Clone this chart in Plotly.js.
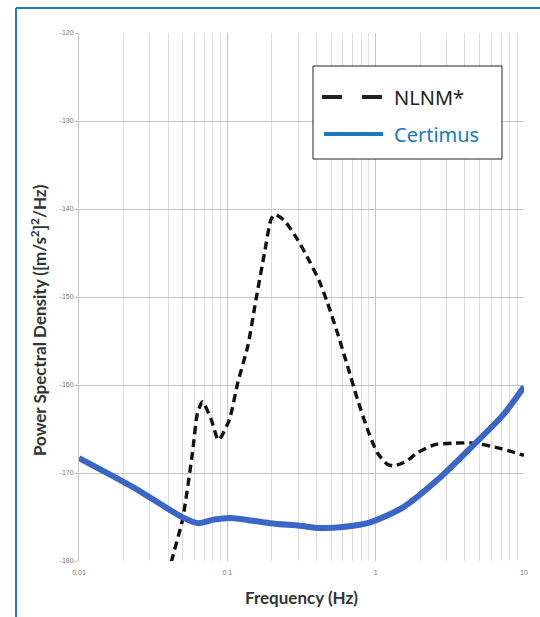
<!DOCTYPE html>
<html>
<head>
<meta charset="utf-8">
<script src="https://cdn.plot.ly/plotly-3.0.1.min.js"></script>
<style>html,body{margin:0;padding:0;background:#fff;}#chart{width:540px;height:617px;}</style>
</head>
<body>
<div id="chart"></div>
<script>
// NLNM* (dashed) — frequency (Hz) and PSD (dB)
const nlnmFreq = [0.039, 0.0421, 0.0499, 0.0582, 0.0629, 0.068, 0.0781, 0.0871, 0.103, 0.1177, 0.1373, 0.156, 0.178, 0.197, 0.2096, 0.242, 0.298, 0.357, 0.417, 0.474, 0.553, 0.645, 0.753, 0.879, 1.026, 1.197, 1.33, 1.633, 1.906, 2.48, 3.38, 4.6, 6.89, 10];
const nlnmPsd  = [-183, -180, -175.3, -167.7, -163.2, -161.9, -164.0, -166.25, -164.0, -159.7, -155.6, -150.3, -145.0, -141.2, -140.6, -141.3, -143.5, -145.9, -148.2, -150.7, -154.1, -157.8, -161.6, -165.0, -167.7, -169.0, -169.2, -168.6, -167.7, -166.8, -166.6, -166.6, -167.2, -168.0];
// Certimus (solid blue)
const certFreq = [0.01, 0.0231, 0.0495, 0.0634, 0.081, 0.104, 0.194, 0.309, 0.422, 0.622, 0.917, 1.53, 2.6, 4.33, 7.23, 10];
const certPsd  = [-168.3, -171.6, -175.0, -175.7, -175.3, -175.1, -175.7, -176.0, -176.25, -176.1, -175.6, -173.9, -170.8, -167.2, -163.4, -160.2];
// Tick labels
const xTickVals = [0.01, 0.1, 1, 10];
const xTickText = ['0.01', '0.1', '1', '10'];
const yTickVals = [-180, -170, -160, -150, -140, -130, -120];
const yTickText = ['-180', '-170', '-160', '-150', '-140', '-130', '-120'];
const seriesNames = ['NLNM*', 'Certimus'];
const xTitle = 'Frequency (Hz)';
const yTitle = 'Power Spectral Density ([m/s<sup>2</sup>]<sup>2</sup>/Hz)';

const W = 540, H = 617;
const M = {l: 79, r: 16, t: 33, b: 56};
const pw = W - M.l - M.r, ph = H - M.t - M.b;
const px = x => (x - M.l) / pw;
const py = y => (H - M.b - y) / ph;

const blueFrame = '#1f7bc6';
const certColor = '#3a66c8';
const legendBlue = '#1a78c2';
const titleFont = {family: 'Lato, sans-serif', size: 17, color: '#333', weight: 'bold'};

const traces = [
  {x: nlnmFreq, y: nlnmPsd, type: 'scatter', mode: 'lines', name: seriesNames[0],
   line: {color: '#111', width: 3.4, dash: '8px,5px', shape: 'spline', smoothing: 0.6}, showlegend: false},
  {x: certFreq, y: certPsd, type: 'scatter', mode: 'lines', name: seriesNames[1],
   line: {color: certColor, width: 6, shape: 'spline', smoothing: 0.8}, showlegend: false}
];

const layout = {
  width: W, height: H,
  margin: M,
  paper_bgcolor: '#fff', plot_bgcolor: '#fff',
  font: {family: 'Liberation Sans, Arial, sans-serif', color: '#333'},
  xaxis: {
    type: 'log', range: [-2, 1], tickvals: xTickVals, ticktext: xTickText,
    tickfont: {size: 7, color: '#777'}, showgrid: true, gridcolor: '#c4c4c4', gridwidth: 1,
    minor: {dtick: 'D1', showgrid: true, gridcolor: '#dedede', gridwidth: 1, ticks: ''},
    zeroline: false, showline: false, ticks: '', ticklabelstandoff: 6,
    title: {text: xTitle, font: titleFont, standoff: 17}
  },
  yaxis: {
    range: [-180, -120], tickvals: yTickVals, ticktext: yTickText,
    tickfont: {size: 7, color: '#777'}, showgrid: true, gridcolor: '#c4c4c4', gridwidth: 1,
    zeroline: false, showline: true, linecolor: '#c4c4c4', linewidth: 1, ticks: 'outside', ticklen: 3, tickcolor: '#c4c4c4'
  },
  shapes: [
    // outer blue frame (top and left)
    {type: 'line', xref: 'paper', yref: 'paper', x0: px(16), x1: px(540), y0: py(8), y1: py(8), line: {color: blueFrame, width: 2}},
    {type: 'line', xref: 'paper', yref: 'paper', x0: px(16), x1: px(16), y0: py(8), y1: py(617), line: {color: blueFrame, width: 2}},
    // legend box
    {type: 'rect', xref: 'paper', yref: 'paper', x0: px(313), x1: px(502), y0: py(159), y1: py(66), fillcolor: '#fff', line: {color: '#222', width: 1}},
    {type: 'line', xref: 'paper', yref: 'paper', x0: px(322), x1: px(382), y0: py(97), y1: py(97), line: {color: '#222', width: 4, dash: '20px,20px'}},
    {type: 'line', xref: 'paper', yref: 'paper', x0: px(324), x1: px(383), y0: py(134), y1: py(134), line: {color: legendBlue, width: 4}}
  ],
  annotations: [
    {xref: 'paper', yref: 'paper', x: px(392), y: py(97), xanchor: 'left', yanchor: 'middle', showarrow: false,
     text: seriesNames[0], font: {family: 'Noto Sans, sans-serif', size: 20, color: '#222'}},
    {xref: 'paper', yref: 'paper', x: px(392), y: py(134), xanchor: 'left', yanchor: 'middle', showarrow: false,
     text: seriesNames[1], font: {family: 'Noto Sans, sans-serif', size: 20, color: legendBlue}},
    {xref: 'paper', yref: 'paper', x: px(38), y: py(320), xanchor: 'center', yanchor: 'middle', showarrow: false,
     textangle: -90, text: yTitle, font: titleFont}
  ]
};

Plotly.newPlot('chart', traces, layout, {displayModeBar: false, staticPlot: true});
</script>
</body>
</html>
